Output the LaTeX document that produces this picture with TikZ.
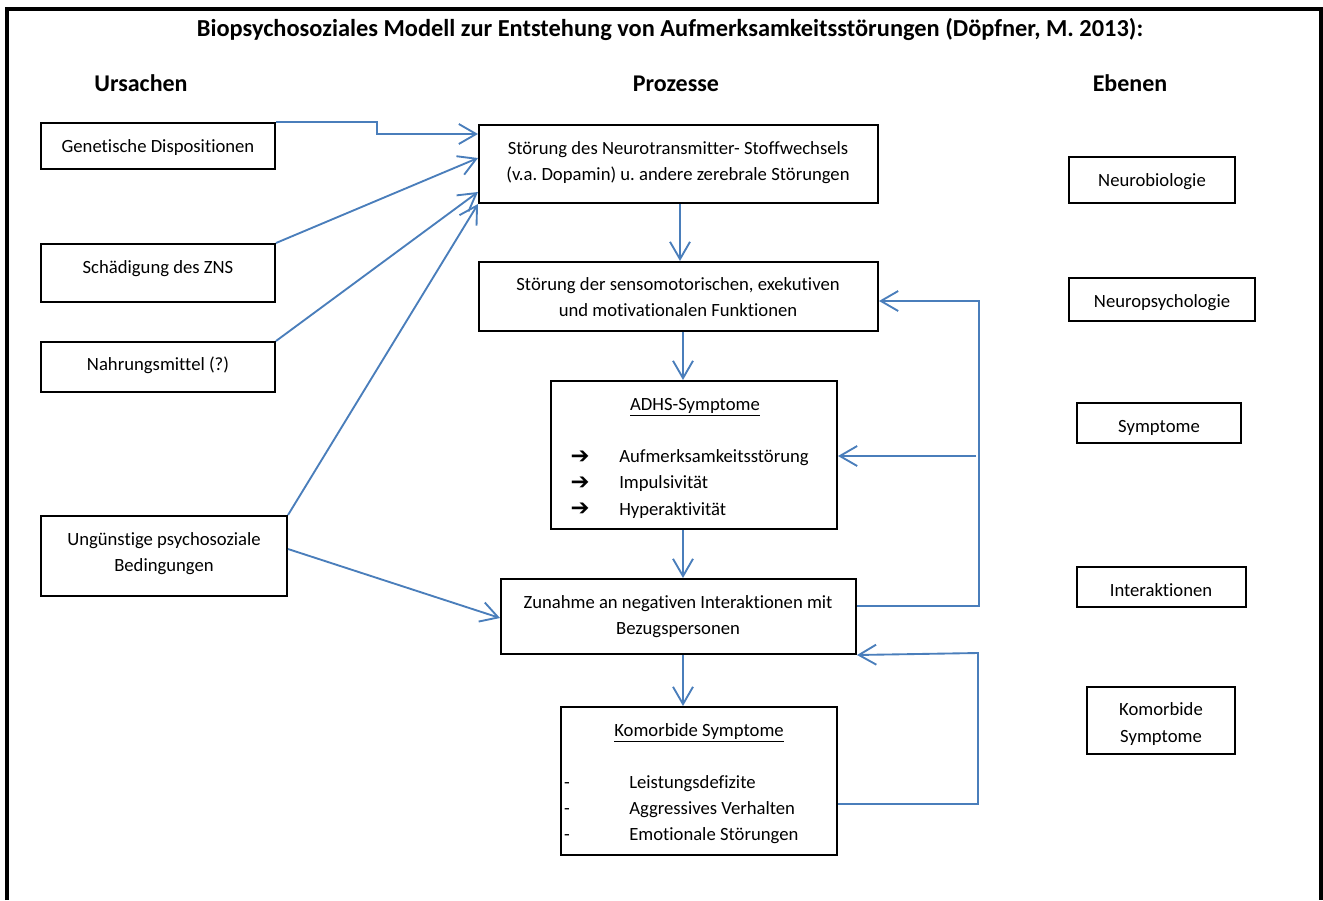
\documentclass[tikz,border=0pt]{standalone}
\usepackage{fontspec}
\setmainfont{Carlito}[Ligatures=NoCommon]
\newfontfamily\symfont{DejaVu Sans}
\usetikzlibrary{arrows.meta,fit}
\definecolor{lineblue}{HTML}{4A7EBB}
\frenchspacing
\begin{document}
\begin{tikzpicture}[x=0.75pt,y=-0.75pt,
 box/.style={draw=black, line width=1.5pt, inner sep=0pt},
 txt/.style={inner sep=0pt, anchor=mid, yshift=-2.4pt, font=\fontsize{14}{16}\selectfont},
 lft/.style={txt, anchor=mid west},
 head/.style={inner sep=0pt, anchor=mid, yshift=-4pt, font=\bfseries\fontsize{18}{20}\selectfont},
 sym/.style={inner sep=0pt, anchor=center, font=\symfont\bfseries\fontsize{17}{18}\selectfont},
 conn/.style={draw=lineblue, line width=1.4pt, -{Straight Barb[length=13pt,width=15pt]}},
 plain/.style={draw=lineblue, line width=1.4pt}]
\useasboundingbox (0,0) rectangle (1323,900);
\draw[line width=2.4pt] (7,900) -- (7,9) -- (1321,9) -- (1321,900);

\node[inner sep=0pt, anchor=mid, yshift=-4pt, font=\bfseries\fontsize{18.3}{20}\selectfont] (title) at (670,28)
 {Biopsychosoziales Modell zur Entstehung von Aufmerksamkeitsstörungen (Döpfner, M. 2013):};
\node[head] (h1) at (141,83) {Ursachen};
\node[head] (h2) at (676,83) {Prozesse};
\node[head] (h3) at (1130,83) {Ebenen};

% left column
\node[box, fit={(41,123) (275,169)}] (gen) {};
\node[txt] (gent) at (158,146) {Genetische Dispositionen};
\node[box, fit={(41,244) (275,302)}] (zns) {};
\node[txt] (znst) at (158,267) {Schädigung des ZNS};
\node[box, fit={(41,342) (275,392)}] (nahr) {};
\node[txt] (nahrt) at (158,364) {Nahrungsmittel (?)};
\node[box, fit={(41,516) (287,596)}] (ung) {};
\node[txt] (ungt1) at (164,539) {Ungünstige psychosoziale};
\node[txt] (ungt2) at (164,565) {Bedingungen};

% middle column
\node[box, fit={(479,125) (878,203)}] (b1) {};
\node[txt] (b1t1) at (678,148) {Störung des Neurotransmitter- Stoffwechsels};
\node[txt] (b1t2) at (678,174) {(v.a. Dopamin) u. andere zerebrale Störungen};
\node[box, fit={(479,262) (878,331)}] (b2) {};
\node[txt] (b2t1) at (678,284) {Störung der sensomotorischen, exekutiven};
\node[txt] (b2t2) at (678,310) {und motivationalen Funktionen};
\node[box, fit={(551,381) (837,529)}] (b3) {};
\node[txt] (b3h) at (695,404) {\underline{ADHS-Symptome}};
\node[sym] (a1) at (580,457) {➔};
\node[sym] (a2) at (580,483) {➔};
\node[sym] (a3) at (580,509.5) {➔};
\node[lft] (s1) at (619,456) {Aufmerksamkeitsstörung};
\node[lft] (s2) at (619,482) {Impulsivität};
\node[lft] (s3) at (619,509) {Hyperaktivität};
\node[box, fit={(501,579) (856,654)}] (b4) {};
\node[txt] (b4t1) at (678,602) {Zunahme an negativen Interaktionen mit};
\node[txt] (b4t2) at (678,628) {Bezugspersonen};
\node[box, fit={(561,707) (837,855)}] (b5) {};
\node[txt] (b5h) at (699,730) {\underline{Komorbide Symptome}};
\node[txt] (d1) at (567,782) {-};
\node[txt] (d2) at (567,808) {-};
\node[txt] (d3) at (567,834) {-};
\node[lft] (k1) at (629,782) {Leistungsdefizite};
\node[lft] (k2) at (629,808) {Aggressives Verhalten};
\node[lft] (k3) at (629,834) {Emotionale Störungen};

% right column
\node[box, fit={(1069,157) (1235,203)}] (e1) {};
\node[txt] (e1t) at (1152,180) {Neurobiologie};
\node[box, fit={(1069,278) (1255,321)}] (e2) {};
\node[txt] (e2t) at (1162,301) {Neuropsychologie};
\node[box, fit={(1077,403) (1241,443)}] (e3) {};
\node[txt] (e3t) at (1159,426) {Symptome};
\node[box, fit={(1077,567) (1246,607)}] (e4) {};
\node[txt] (e4t) at (1161,590) {Interaktionen};
\node[box, fit={(1087,687) (1235,754)}] (e5) {};
\node[txt] (e5t1) at (1161,709) {Komorbide};
\node[txt] (e5t2) at (1161,736) {Symptome};

% connectors
\draw[conn] (gen.north east) -| (377,134) -- (b1.west |- 0,134);
\draw[conn] (zns.north east) -- (b1.west |- 0,158);
\draw[conn] (nahr.north east) -- (b1.west |- 0,192);
\draw[conn] (ung.north east) -- (b1.south west);
\draw[conn] (ung.east |- 0,549) -- (b4.west |- 0,618);

\draw[conn] (b1.south -| 680,0) -- (b2.north -| 680,0);
\draw[conn] (b2.south -| 683,0) -- (b3.north -| 683,0);
\draw[conn] (b3.south -| 683,0) -- (b4.north -| 683,0);
\draw[conn] (b4.south -| 683,0) -- (b5.north -| 683,0);

\coordinate (fbA) at (976,456);
\draw[conn] (b4.east |- 0,606) -- (979,606) -- (979,301) -- (b2.east |- 0,301);
\draw[conn] (fbA) -- (b3.east |- fbA);
\draw[conn] (b5.east |- 0,804) -- (978,804) -- (978,653) -- (b4.south east);
\end{tikzpicture}
\end{document}
